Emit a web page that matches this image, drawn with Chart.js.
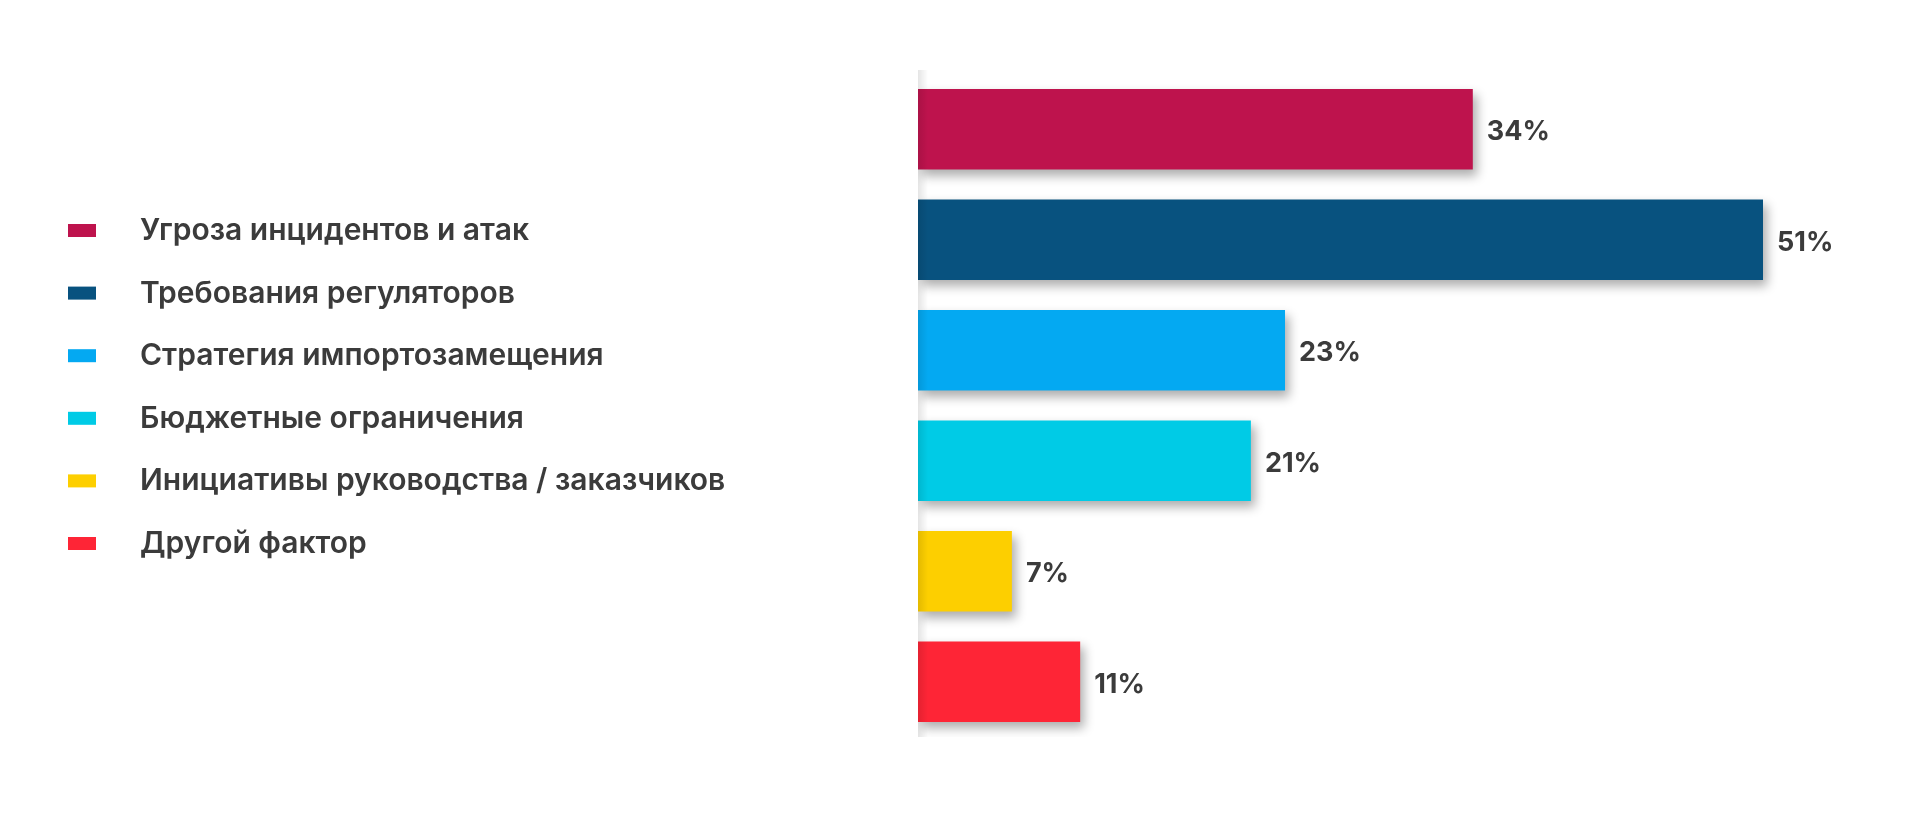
<!DOCTYPE html>
<html lang="ru">
<head>
<meta charset="utf-8">
<title>Факторы</title>
<script src="https://cdn.jsdelivr.net/npm/chart.js@4.4.1/dist/chart.umd.min.js"></script>
<style>
  html, body { margin: 0; padding: 0; background: #fff; }
  #wrap { width: 1919px; height: 815px; }
</style>
</head>
<body>
<div id="wrap"><canvas id="chart" width="1919" height="815"></canvas></div>
<script>
// ── data ──
const categories = [
  'Угроза инцидентов и атак',
  'Требования регуляторов',
  'Стратегия импортозамещения',
  'Бюджетные ограничения',
  'Инициативы руководства / заказчиков',
  'Другой фактор'
];
const values = [34, 51, 23, 21, 7, 11];
const valueLabels = ['34%', '51%', '23%', '21%', '7%', '11%'];
const colors = ['#BE134D', '#08527F', '#04A9F2', '#00CBE6', '#FDCF00', '#FE2536'];

const TEXT = '#3b3b3b';
const FONT = "'Inter', 'Noto Sans', sans-serif";

// drop shadow under bars + soft strip on the left edge
const shadowPlugin = {
  id: 'barShadow',
  beforeDatasetsDraw(chart) {
    const ctx = chart.ctx;
    ctx.save();
    ctx.shadowColor = 'rgba(0,0,0,0.32)';
    ctx.shadowBlur = 10;
    ctx.shadowOffsetX = 4;
    ctx.shadowOffsetY = 6;
  },
  afterDatasetsDraw(chart) {
    const ctx = chart.ctx;
    ctx.restore();
    const a = chart.chartArea;
    // left edge strip
    const g = ctx.createLinearGradient(a.left, 0, a.left + 10, 0);
    g.addColorStop(0, 'rgba(0,0,0,0.10)');
    g.addColorStop(1, 'rgba(0,0,0,0)');
    ctx.save();
    ctx.fillStyle = g;
    ctx.fillRect(a.left, a.top - 4, 10, a.bottom - a.top + 4);
    ctx.restore();

    // value labels
    const meta = chart.getDatasetMeta(0);
    ctx.save();
    ctx.fillStyle = TEXT;
    ctx.font = `700 27px ${FONT}`;
    ctx.textAlign = 'left';
    ctx.textBaseline = 'alphabetic';
    meta.data.forEach((bar, i) => {
      ctx.fillText(valueLabels[i], bar.x + 14, bar.y + 11);
    });
    ctx.restore();
  }
};

// legend on the left, drawn on the canvas
const legendPlugin = {
  id: 'sideLegend',
  afterDraw(chart) {
    const ctx = chart.ctx;
    ctx.save();
    ctx.font = `600 30px ${FONT}`;
    ctx.textBaseline = 'alphabetic';
    categories.forEach((name, i) => {
      const base = 240 + i * 62.6;
      ctx.fillStyle = colors[i];
      ctx.fillRect(68, base - 16, 28, 13);
      ctx.fillStyle = TEXT;
      ctx.fillText(name, 140, base);
    });
    ctx.restore();
  }
};

new Chart(document.getElementById('chart'), {
  type: 'bar',
  data: {
    labels: categories,
    datasets: [{
      data: values,
      backgroundColor: colors,
      borderWidth: 0,
      barPercentage: 1,
      categoryPercentage: 0.73,
      base: 1.5
    }]
  },
  options: {
    indexAxis: 'y',
    responsive: false,
    animation: false,
    layout: { padding: { left: 918, right: 36.5, top: 74, bottom: 78 } },
    plugins: {
      legend: { display: false },
      tooltip: { enabled: false }
    },
    scales: {
      x: { display: false, min: 1.5, max: 58 },
      y: { display: false }
    }
  },
  plugins: [shadowPlugin, legendPlugin]
});
</script>
</body>
</html>
